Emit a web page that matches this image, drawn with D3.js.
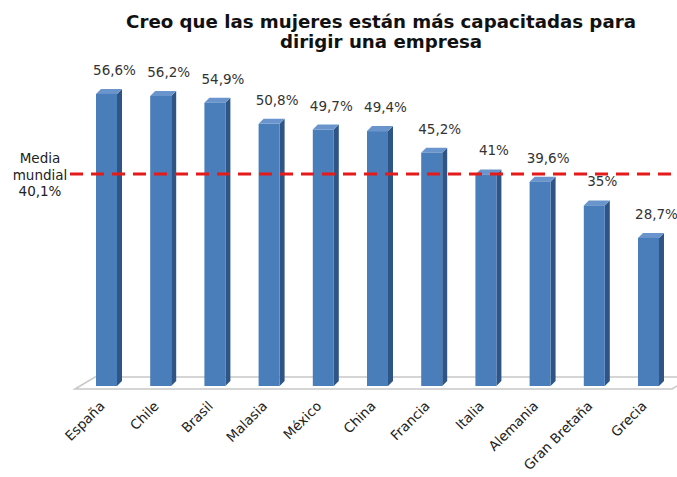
<!DOCTYPE html>
<html>
<head>
<meta charset="utf-8">
<script src="https://cdn.jsdelivr.net/npm/d3@7"></script>
<style>
  body { margin: 0; background: #fff; }
  text { font-family: "DejaVu Sans", Verdana, sans-serif; }
</style>
</head>
<body>
<svg width="677" height="477"></svg>
<script>
const countries = ["España", "Chile", "Brasil", "Malasia", "México", "China", "Francia", "Italia", "Alemania", "Gran Bretaña", "Grecia"];
const values = [56.6, 56.2, 54.9, 50.8, 49.7, 49.4, 45.2, 41, 39.6, 35, 28.7];
const valueLabels = ["56,6%", "56,2%", "54,9%", "50,8%", "49,7%", "49,4%", "45,2%", "41%", "39,6%", "35%", "28,7%"];
const meanValue = 40.1;
const meanLabel = ["Media", "mundial", "40,1%"];
const titleLines = ["Creo que las mujeres están más capacitadas para", "dirigir una empresa"];

const svg = d3.select("svg");
const depth = 5, barW = 21;

const colors = {
  front: "#4a7ebb",
  side: "#2f5586",
  top: "#6a95cc",
  floor: "#c8c8c8",
  mean: "#e51b1b",
  text: "#333"
}

// x: centre of front face; y: back plane
const x = d3.scalePoint().domain(countries).range([106.5, 648.5]);
const y = d3.scaleLinear().domain([0, 60]).range([381, 71.4]);

// title
svg.append("g").selectAll("text")
  .data(titleLines).enter().append("text")
  .attr("x", 381)
  .attr("y", (d, i) => 28 + i * 20)
  .attr("text-anchor", "middle")
  .attr("font-size", 18.2)
  .attr("font-weight", "bold")
  .attr("fill", "#111")
  .text(d => d);

// floor
const fy = y(0);
svg.append("polygon")
  .attr("points", [[75, fy + 8], [95, fy - 4], [692, fy - 4], [672, fy + 8]].join(" "))
  .attr("fill", "#fff")
  .attr("stroke", colors.floor)
  .attr("stroke-width", 1.5);

// bars
const bars = svg.append("g").selectAll("g")
  .data(countries).enter().append("g");

bars.each(function(c, i) {
  const g = d3.select(this);
  const x0 = x(c) - barW / 2, x1 = x(c) + barW / 2;
  const yt = y(values[i]), yb = y(0);
  // side
  g.append("polygon")
    .attr("points", [[x1, yt + depth], [x1 + depth, yt], [x1 + depth, yb], [x1, yb + depth]].join(" "))
    .attr("fill", colors.side);
  // top
  g.append("polygon")
    .attr("points", [[x0, yt + depth], [x0 + depth, yt], [x1 + depth, yt], [x1, yt + depth]].join(" "))
    .attr("fill", colors.top);
  // front
  g.append("rect")
    .attr("x", x0).attr("y", yt + depth)
    .attr("width", barW).attr("height", yb - yt)
    .attr("fill", colors.front);
});

// value labels
svg.append("g").selectAll("text")
  .data(countries).enter().append("text")
  .attr("x", d => x(d) + 8)
  .attr("y", (d, i) => y(values[i]) - 14)
  .attr("text-anchor", "middle")
  .attr("font-size", 13.5)
  .attr("fill", colors.text)
  .text((d, i) => valueLabels[i]);

// mean line
svg.append("line")
  .attr("x1", 70).attr("x2", 677)
  .attr("y1", y(meanValue)).attr("y2", y(meanValue))
  .attr("stroke", colors.mean)
  .attr("stroke-width", 3)
  .attr("stroke-dasharray", "13,8");

svg.append("g").selectAll("text")
  .data(meanLabel).enter().append("text")
  .attr("x", 40)
  .attr("y", (d, i) => y(meanValue) - 11 + i * 16.5)
  .attr("text-anchor", "middle")
  .attr("font-size", 13.5)
  .attr("fill", "#222")
  .text(d => d);

// category labels
svg.append("g").selectAll("text")
  .data(countries).enter().append("text")
  .attr("transform", d => `translate(${x(d) - 1},${fy + 26}) rotate(-45)`)
  .attr("text-anchor", "end")
  .attr("font-size", 13.5)
  .attr("fill", "#222")
  .text(d => d);
</script>
</body>
</html>
